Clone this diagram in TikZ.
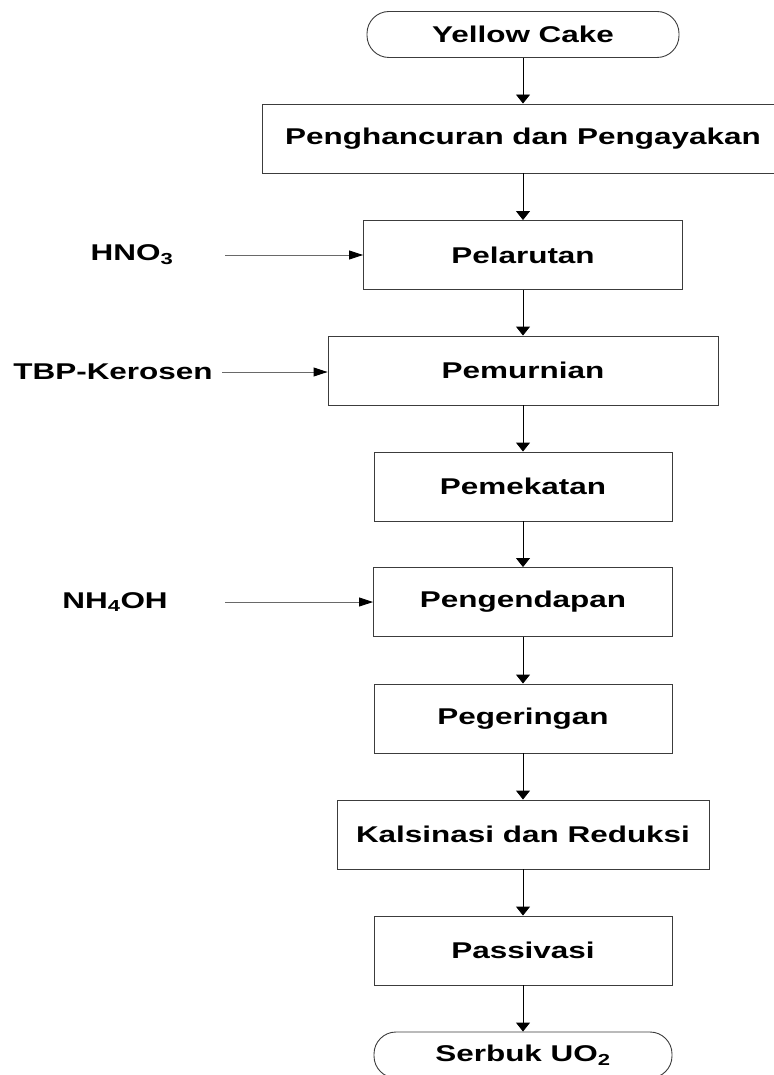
\documentclass[tikz,border=0pt]{standalone}
\usepackage{fontspec}
\setmainfont{Liberation Sans}[FakeStretch=1.38]
\usetikzlibrary{positioning,arrows.meta}
\definecolor{edge}{RGB}{60,60,60}
\definecolor{feed}{RGB}{105,105,105}
\begin{document}
\begin{tikzpicture}[
  x=1pt,y=-1pt,
  font=\fontsize{22.8}{27}\selectfont\bfseries,
  stepbox/.style={draw=edge,line width=0.9pt,minimum height=69pt,inner sep=0pt},
  termbox/.style={stepbox,minimum height=46pt,rounded corners=22pt},
  flow/.style={-{Triangle[width=14pt,length=9pt]},line width=0.9pt},
  feedline/.style={-{Triangle[width=9pt,length=14pt,color=black]},feed,line width=0.9pt},
  lbl/.style={inner sep=0pt}
]
\useasboundingbox (0,0) rectangle (773,1075);
\def\CX{523}
% main stream
\node[termbox,minimum width=312pt] (cake)   at (\CX,34.5)  {Yellow Cake};
\node[stepbox,minimum width=522pt] (crush)  at (\CX,138.5) {Penghancuran dan Pengayakan};
\node[stepbox,minimum width=319pt] (dissol) at (\CX,255)   {Pelarutan};
\node[stepbox,minimum width=390pt] (purif)  at (\CX,370.5) {Pemurnian};
\node[stepbox,minimum width=298pt] (conc)   at (\CX,486.5) {Pemekatan};
\node[stepbox,minimum width=299pt] (precip) at (\CX,602)   {Pengendapan};
\node[stepbox,minimum width=298pt] (dry)    at (\CX,718.5) {Pegeringan};
\node[stepbox,minimum width=372pt] (calc)   at (\CX,834.5) {Kalsinasi dan Reduksi};
\node[stepbox,minimum width=298pt] (pass)   at (\CX,950.5) {Passivasi};
\node[termbox,minimum width=298pt] (powder) at (\CX,1055)  {Serbuk UO\textsubscript{2}};
\draw[flow] (cake)   -- (crush);
\draw[flow] (crush)  -- (dissol);
\draw[flow] (dissol) -- (purif);
\draw[flow] (purif)  -- (conc);
\draw[flow] (conc)   -- (precip);
\draw[flow] (precip) -- (dry);
\draw[flow] (dry)    -- (calc);
\draw[flow] (calc)   -- (pass);
\draw[flow] (pass)   -- (powder);
% feeds
\node[lbl] (hno)  at (132,255)   {HNO\textsubscript{3}};
\node[lbl] (tbp)  at (113,372)   {TBP-Kerosen};
\node[lbl] (nh)   at (115,602)   {NH\textsubscript{4}OH};
\coordinate (hnoS) at (225,255);
\coordinate (tbpS) at (222,372);
\coordinate (nhS)  at (225,602);
\draw[feedline] (hnoS) -- (dissol.west);
\draw[feedline] (tbpS) -- (tbpS -| purif.west);
\draw[feedline] (nhS)  -- (precip.west);
\end{tikzpicture}
\end{document}
